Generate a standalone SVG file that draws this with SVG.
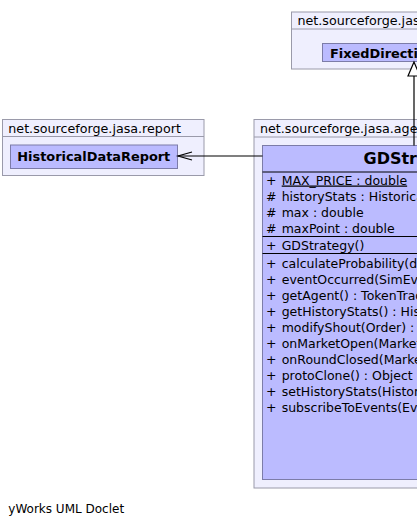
<svg xmlns="http://www.w3.org/2000/svg" width="417" height="526" viewBox="0 0 417 526">
<style>
.pkg{fill:#efeffe;stroke:#9a9aaa;stroke-width:1}
.cls{fill:#bbbbff;stroke:#7c7ca8;stroke-width:1}
.sep{stroke:#000;stroke-width:1}
.plabel{font-family:"DejaVu Sans",sans-serif;font-size:12.7px;fill:#000}
.cname{font-family:"DejaVu Sans",sans-serif;font-size:12.9px;font-weight:bold;fill:#000}
.title{font-family:"DejaVu Sans",sans-serif;font-size:16px;font-weight:bold;fill:#000}
.mem{font-family:"DejaVu Sans",sans-serif;font-size:12.5px;fill:#000}
.edge{fill:none;stroke:#000;stroke-width:1.2}
</style>
<rect width="417" height="526" fill="#ffffff"/>
<g id="pkg-top">
<rect class="pkg" x="291.5" y="12" width="200" height="57"/>
<line x1="291.5" y1="29" x2="491.5" y2="29" stroke="#9a9aaa"/>
<text class="plabel" x="297.5" y="25">net.sourceforge.jasa.agent</text>
</g>
<g id="FixedDirectionStrategy">
<rect class="cls" x="322.5" y="43.5" width="180" height="18"/>
<text class="cname" x="330" y="57.5">FixedDirectionStrategy</text>
</g>
<g id="pkg-report">
<rect class="pkg" x="2.5" y="119.5" width="201.5" height="56"/>
<line x1="2.5" y1="136.5" x2="204" y2="136.5" stroke="#9a9aaa"/>
<text class="plabel" x="8.3" y="132.5">net.sourceforge.jasa.report</text>
</g>
<g id="HistoricalDataReport">
<rect class="cls" x="10.5" y="145" width="167" height="23.5"/>
<text class="cname" x="17.3" y="161.3">HistoricalDataReport</text>
</g>
<g id="pkg-agent">
<rect class="pkg" x="254" y="119.5" width="330" height="368.5"/>
<line x1="254" y1="137" x2="584" y2="137" stroke="#9a9aaa"/>
<text class="plabel" x="260" y="132.5">net.sourceforge.jasa.agent.strategy</text>
</g>
<g id="GDStrategy">
<rect class="cls" x="262.5" y="145.5" width="306" height="334"/>
<text class="title" x="363.5" y="164.3">GDStrategy</text>
<line class="sep" x1="262.5" y1="172" x2="568.5" y2="172"/>
<line class="sep" x1="262.5" y1="236.5" x2="568.5" y2="236.5"/>
<line class="sep" x1="262.5" y1="253.5" x2="568.5" y2="253.5"/>
<g class="mem">
<text x="266" y="184.5">+</text><text x="281.7" y="184.5" text-decoration="underline">MAX_PRICE : double</text>
<text x="266" y="200.5">#</text><text x="281.7" y="200.5">historyStats : HistoricalDataReport</text>
<text x="266" y="216.5">#</text><text x="281.7" y="216.5">max : double</text>
<text x="266" y="232.5">#</text><text x="281.7" y="232.5">maxPoint : double</text>
<text x="266" y="249.5">+</text><text x="281.7" y="249.5">GDStrategy()</text>
<text x="266" y="267.5">+</text><text x="281.7" y="267.5">calculateProbability(double) : double</text>
<text x="266" y="283.5">+</text><text x="281.7" y="283.5">eventOccurred(SimEvent) : void</text>
<text x="266" y="299.5">+</text><text x="281.7" y="299.5">getAgent() : TokenTradingAgent</text>
<text x="266" y="315.5">+</text><text x="281.7" y="315.5">getHistoryStats() : HistoricalDataReport</text>
<text x="266" y="331.5">+</text><text x="281.7" y="331.5">modifyShout(Order) : boolean</text>
<text x="266" y="347.5">+</text><text x="281.7" y="347.5">onMarketOpen(MarketOpenEvent) : void</text>
<text x="266" y="363.5">+</text><text x="281.7" y="363.5">onRoundClosed(MarketEvent) : void</text>
<text x="266" y="379.5">+</text><text x="281.7" y="379.5">protoClone() : Object</text>
<text x="266" y="395.5">+</text><text x="281.7" y="395.5">setHistoryStats(HistoricalDataReport) : void</text>
<text x="266" y="411.5">+</text><text x="281.7" y="411.5">subscribeToEvents(EventScheduler) : void</text>
</g>
</g>
<g id="connectors">
<line class="edge" x1="414" y1="145.5" x2="414" y2="76"/>
<polygon points="414,62 408,76 420,76" fill="#fff" stroke="#000" stroke-width="1.2"/>
<line class="edge" x1="262.5" y1="156" x2="178" y2="156"/>
<polyline class="edge" points="192,152 178,156 192,160"/>
</g>
<text x="8.3" y="513" font-family="DejaVu Sans, sans-serif" font-size="12px" fill="#000">yWorks UML Doclet</text>
</svg>
